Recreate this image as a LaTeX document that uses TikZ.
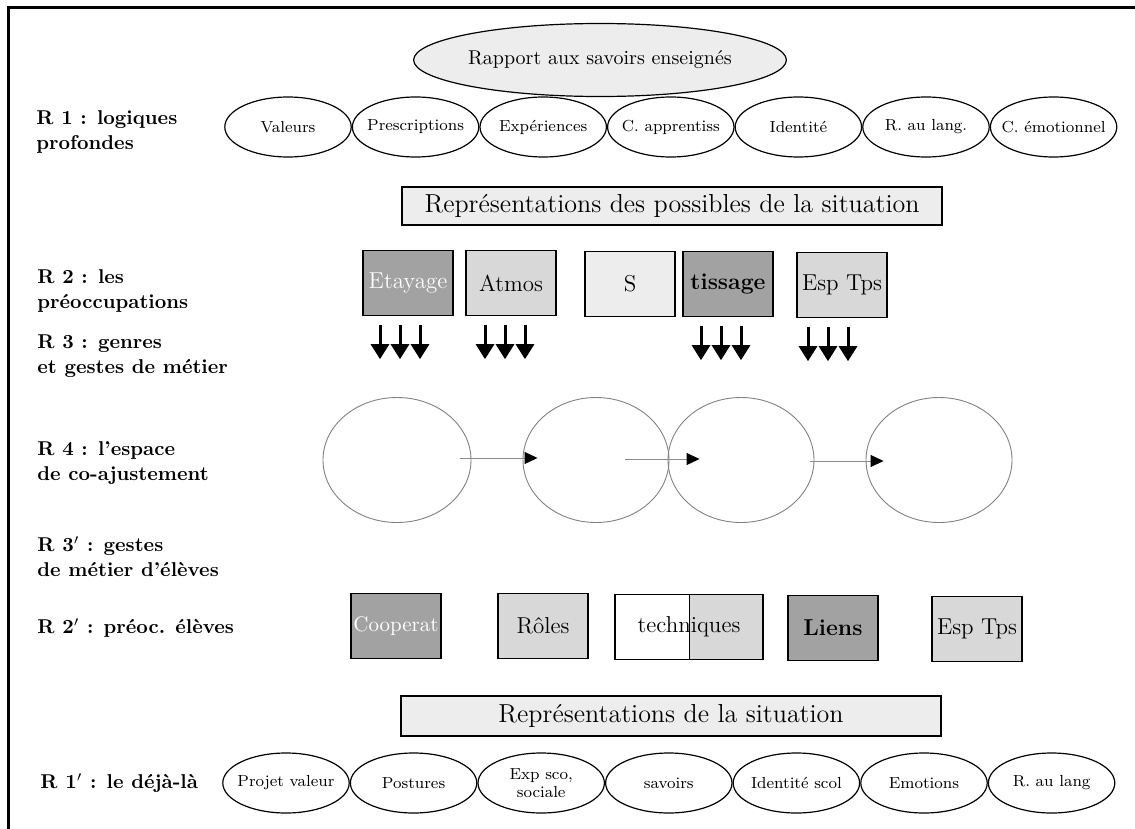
\documentclass[tikz,border=0pt]{standalone}
\usepackage{xcolor}
\definecolor{ShadeDark}{HTML}{A2A2A2}
\definecolor{ShadeLight}{HTML}{D8D8D8}
\definecolor{ShadePale}{HTML}{EDEDED}
\usepackage{tikz}
\usetikzlibrary{positioning,arrows.meta,shapes.geometric,calc}
\tikzset{
  rlabel/.style={anchor=north west,inner sep=0pt,align=left,font=\fontsize{10}{12.5}\selectfont\bfseries},
  rapport/.style={ellipse,draw,fill=ShadePale,line width=0.6pt,minimum width=175.5pt,minimum height=36.5pt,inner sep=0pt,font=\fontsize{10}{12}\selectfont},
  logique/.style={ellipse,draw,line width=0.6pt,minimum width=63.2pt,minimum height=30pt,inner xsep=-8pt,inner ysep=0pt,align=center,font=\fontsize{8}{9}\selectfont},
  repbox/.style={draw,fill=ShadePale,line width=0.7pt,minimum width=270pt,minimum height=19pt,inner sep=0pt,font=\fontsize{13}{15}\selectfont},
  preoc/.style={draw,line width=0.7pt,minimum width=45pt,minimum height=32.5pt,inner sep=0pt,font=\fontsize{11.5}{13}\selectfont},
  espace/.style={ellipse,draw=black!50,line width=0.45pt,minimum width=73pt,minimum height=62.5pt,inner sep=0pt},
  descente/.style={-{Triangle[length=7.5pt,width=9pt]},line width=1.5pt},
  passage/.style={-{Triangle[length=6.5pt,width=6pt,color=black]},draw=black!45,line width=0.5pt}
}

\begin{document}
\begin{tikzpicture}[x=0.5pt,y=-0.5pt]
  \useasboundingbox (0,0) rectangle (1135,829);
  \draw[line width=1.5pt] (8,829) -- (8,8) -- (1135,8);

  % niveaux
  \node[rlabel] (r1) at (36,110) {R 1 : logiques\\profondes};
  \node[rlabel] (r2) at (37,269) {R 2 : les\\préoccupations};
  \node[rlabel] (r3) at (37,334) {R 3 : genres\\et gestes de métier};
  \node[rlabel] (r4) at (37,441) {R 4 : l’espace\\de co-ajustement};
  \node[rlabel] (r3b) at (37,536) {R 3$'$ : gestes\\de métier d’élèves};
  \node[rlabel] (r2b) at (37,618) {R 2$'$ : préoc. élèves};
  \node[rlabel] (r1b) at (40,773) {R 1$'$ : le déjà-là};

  % R1
  \node[rapport] (rapport) at (600,60) {Rapport aux savoirs enseignés};
  \node[logique] (valeurs) at (288,127) {Valeurs};
  \node[logique,right=0pt of valeurs] (prescriptions) {Prescriptions};
  \node[logique,right=0pt of prescriptions] (experiences) {Expériences};
  \node[logique,right=0pt of experiences] (apprentiss) {C. apprentiss};
  \node[logique,right=0pt of apprentiss] (identite) {Identité};
  \node[logique,right=0pt of identite] (rlangage) {R. au lang.};
  \node[logique,right=0pt of rlangage] (emotionnel) {C. émotionnel};

  \node[repbox] (possibles) at (672,206) {Représentations des possibles de la situation};

  % R2
  \node[preoc,fill=ShadeDark,text=white] (etayage) at (408,283) {Etayage};
  \node[preoc,fill=ShadeLight] (atmos) at (511,283) {Atmos};
  \node[preoc,fill=ShadePale] (s) at (630,284) {S};
  \node[preoc,fill=ShadeDark,font=\fontsize{11.5}{13}\selectfont\bfseries] (tissage) at (728,284) {tissage};
  \node[preoc,fill=ShadeLight] (esptps) at (842,285) {Esp Tps};

  % R3
  \foreach \b/\o in {etayage/-8,atmos/-6,tissage/-7,esptps/-14}
    \foreach \d in {-20,0,20}
      \draw[descente] ($(\b.south)+(\d+\o,9)$) -- ++(0,34);

  % R4
  \node[espace,minimum width=74pt] (espace1) at (397,460) {};
  \node[espace] (espace2) at (596,460) {};
  \node[espace] (espace3) at (741,460) {};
  \node[espace] (espace4) at (939,460) {};
  \draw[passage] ($(espace1.east)+(-11,-2)$) -- ($(espace2.west)+(15,-2)$);
  \draw[passage] ($(espace2.east)+(-44,-1)$) -- ($(espace3.west)+(32,-1)$);
  \draw[passage] ($(espace3.east)+(-4,1)$) -- ($(espace4.west)+(18,1)$);

  % R2'
  \node[preoc,fill=ShadeDark,text=white,font=\fontsize{10.5}{12}\selectfont] (cooperat) at (396,626) {Cooperat};
  \node[preoc,fill=ShadeLight] (roles) at (543,626) {Rôles};
  \node[preoc,minimum width=74pt,fill=white,
    path picture={\fill[ShadeLight] (path picture bounding box.north) rectangle (path picture bounding box.south east);}]
    (techniques) at (689,627) {techniques};
  \draw[line width=0.5pt] (techniques.north) -- (techniques.south);
  \node[preoc,fill=ShadeDark,font=\fontsize{11.5}{13}\selectfont\bfseries] (liens) at (833,628) {Liens};
  \node[preoc,fill=ShadeLight] (esptpsbis) at (977,629) {Esp Tps};

  \node[repbox,minimum height=20pt] (situation) at (671,716) {Représentations de la situation};

  % R1'
  \node[logique] (projet) at (286,783) {Projet valeur};
  \node[logique,right=0pt of projet] (postures) {Postures};
  \node[logique,right=0pt of postures] (expsco) {Exp sco,\\sociale};
  \node[logique,right=0pt of expsco] (savoirs) {savoirs};
  \node[logique,right=0pt of savoirs] (identscol) {Identité scol};
  \node[logique,right=0pt of identscol] (emotions) {Emotions};
  \node[logique,right=0pt of emotions] (rlang) {R. au lang};
\end{tikzpicture}
\end{document}
